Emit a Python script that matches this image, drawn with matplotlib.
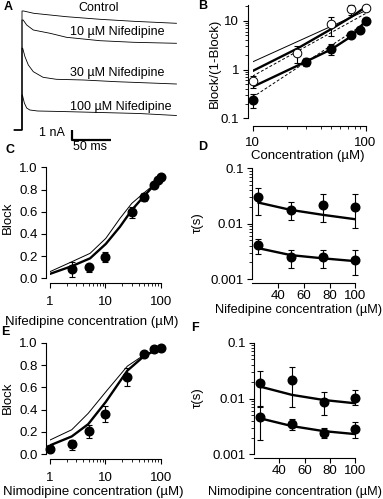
import matplotlib
matplotlib.use("Agg")
import matplotlib.pyplot as plt
import numpy as np
from matplotlib.ticker import FixedLocator, NullFormatter, LogLocator

plt.rcParams['font.family'] = ['Liberation Sans', 'DejaVu Sans']

# ---------------- data ----------------
# Panel A: current traces (time in ms, current in nA)
trace_t = {
    'Control': [-10, 0, 0, 2, 15, 57, 100, 143, 198],
    '10': [-10, 0, 0, 1.5, 6, 14.5, 36, 57, 100, 143, 198],
    '30': [-10, 0, 0, 0.9, 3.8, 8.1, 14.5, 27, 44, 79, 121, 198],
    '100': [-10, 0, 0, 0.5, 3, 6, 10, 20, 50, 100, 150, 198],
}
trace_i = {
    'Control': [0, 0, 11.9, 11.9, 11.67, 11.33, 11.07, 10.87, 10.67],
    '10': [0, 0, 11.0, 11.0, 10.5, 10.0, 9.67, 9.27, 8.93, 8.77, 8.67],
    '30': [0, 0, 8.2, 8.17, 7.33, 6.5, 5.83, 5.27, 5.07, 5.0, 4.83, 4.6],
    '100': [0, 0, 3.5, 3.5, 2.7, 2.2, 2.0, 1.9, 1.85, 1.75, 1.65, 1.45],
}
trace_labels = ['Control', '10 µM Nifedipine', '30 µM Nifedipine', '100 µM Nifedipine']

# Panel B: Block/(1-Block) vs concentration
b_fill_x = [10, 30, 50, 75, 90, 100]
b_fill_y = [0.235, 1.44, 2.6, 5.05, 6.6, 9.8]
b_fill_lo = [0.16, 1.2, 1.96, 4.7, 6.2, 9.3]
b_fill_hi = [0.31, 1.7, 3.4, 5.4, 7.0, 10.3]
b_open_x = [10, 25, 50, 75, 100]
b_open_y = [0.58, 2.2, 8.4, 17.0, 18.6]
b_open_lo = [0.41, 1.33, 4.8, 13.0, 17.0]
b_open_hi = [0.73, 3.1, 12.0, 21.0, 20.0]
b_fit_x = [10, 25, 50, 75, 100]
b_fit_open = [0.93, 2.7, 6.8, 12.0, 19.0]
b_fit_fill = [0.44, 1.2, 2.6, 4.8, 9.8]
b_thin_x = [10, 100]
b_thin_upper = [1.43, 16.0]
b_thin_mid = [0.73, 14.0]
b_thin_low = [0.27, 9.0]

# Panel C: Nifedipine block
c_x = [2.5, 5, 10, 30, 50, 75, 90, 100]
c_y = [0.084, 0.105, 0.19, 0.60, 0.736, 0.84, 0.886, 0.915]
c_lo = [0.015, 0.06, 0.15, 0.54, 0.70, 0.82, 0.87, 0.90]
c_hi = [0.15, 0.13, 0.24, 0.645, 0.77, 0.86, 0.90, 0.93]
c_fit_x = [1, 2.5, 5.3, 10.2, 18.4, 30, 50, 70, 100]
c_fit_thick = [0.04, 0.11, 0.18, 0.31, 0.465, 0.615, 0.74, 0.82, 0.91]
c_fit_thin = [0.06, 0.15, 0.225, 0.36, 0.54, 0.675, 0.77, 0.83, 0.91]

# Panel D: Nifedipine time constants
d_x = [25, 50, 75, 100]
d_up = [0.030, 0.018, 0.0217, 0.0203]
d_up_lo = [0.0144, 0.0116, 0.0109, 0.0082]
d_up_hi = [0.0448, 0.0243, 0.034, 0.034]
d_low = [0.0041, 0.0025, 0.0025, 0.0022]
d_low_lo = [0.0028, 0.0016, 0.0016, 0.0012]
d_low_hi = [0.0053, 0.0034, 0.0033, 0.0033]
d_fit_up = [0.024, 0.0177, 0.0144, 0.012]
d_fit_low = [0.0036, 0.0027, 0.00236, 0.0021]

# Panel E: Nimodipine block
e_x = [1, 2.5, 5, 10, 25, 50, 75, 100]
e_y = [0.048, 0.09, 0.21, 0.358, 0.69, 0.90, 0.943, 0.95]
e_lo = [0.02, 0.04, 0.15, 0.29, 0.61, 0.87, 0.93, 0.94]
e_hi = [0.08, 0.13, 0.26, 0.43, 0.77, 0.92, 0.96, 0.96]
e_fit_x = [1, 2.47, 4.9, 10.2, 25, 50, 100]
e_fit_thick = [0.08, 0.16, 0.27, 0.47, 0.75, 0.88, 0.955]
e_fit_thin = [0.128, 0.22, 0.367, 0.56, 0.79, 0.89, 0.955]

# Panel F: Nimodipine time constants
f_x = [25, 50, 75, 100]
f_up = [0.0192, 0.0214, 0.0088, 0.0103]
f_up_lo = [0.007, 0.0069, 0.005, 0.0075]
f_up_hi = [0.031, 0.036, 0.013, 0.014]
f_low = [0.0046, 0.0035, 0.0024, 0.0028]
f_low_lo = [0.0018, 0.0027, 0.002, 0.002]
f_low_hi = [0.0072, 0.0043, 0.003, 0.0038]
f_fit_up = [0.0163, 0.0116, 0.0094, 0.0082]
f_fit_low = [0.0044, 0.0032, 0.0026, 0.0023]

# ---------------- figure ----------------
W, H = 383, 499
fig = plt.figure(figsize=(W / 100, H / 100), dpi=100)
PX = 0.72  # points per pixel

def add_ax(l, t, r, b):
    return fig.add_axes([l / W, 1 - b / H, (r - l) / W, (b - t) / H])

def ftext(x, y, s, **kw):
    kw.setdefault('ha', 'center')
    kw.setdefault('va', 'center')
    fig.text(x / W, 1 - y / H, s, **kw)

FS = 9.5
MS = 6.2
LW_THICK = 1.7
LW_THIN = 0.7

def style(ax, left_off, bottom_off, xpad=3, ypad=2.5):
    for s in ['top', 'right']:
        ax.spines[s].set_visible(False)
    ax.spines['left'].set_position(('outward', left_off * PX))
    ax.spines['bottom'].set_position(('outward', bottom_off * PX))
    for s in ['left', 'bottom']:
        ax.spines[s].set_linewidth(0.8)
    ax.tick_params(which='major', length=3.5, width=0.8, labelsize=FS, direction='out')
    ax.tick_params(which='minor', length=2, width=0.6, direction='out')
    ax.tick_params(axis='x', pad=xpad)
    ax.tick_params(axis='y', pad=ypad)
    ax.patch.set_alpha(0)

def eb(ax, x, y, lo, hi, filled=True):
    y = np.array(y); lo = np.array(lo); hi = np.array(hi)
    ax.errorbar(x, y, yerr=[y - lo, hi - y], fmt='none', ecolor='black',
                elinewidth=0.8, capsize=2, capthick=0.8, clip_on=False, zorder=3)
    if filled:
        ax.plot(x, y, 'o', color='black', ms=MS, clip_on=False, zorder=4)
    else:
        ax.plot(x, y, 'o', mfc='white', mec='black', mew=0.7, ms=MS, clip_on=False, zorder=4)

# ---- Panel A ----
axA = add_ax(0, 0, 190, 160)
axA.set_xlim(-22 / 0.78, (190 - 22) / 0.78)
axA.set_ylim(-3, 13)
axA.axis('off')
for key in ['Control', '10', '30', '100']:
    axA.plot(trace_t[key], trace_i[key], color='black', lw=0.6)
# scale bar: 50 ms, 1 nA
axA.plot([64, 64, 114], [0, -1, -1], color='black', lw=1.6, solid_capstyle='butt')
ftext(99, 8, trace_labels[0], fontsize=9)
ftext(70, 32, trace_labels[1], fontsize=9, ha='left')
ftext(70, 73, trace_labels[2], fontsize=9, ha='left')
ftext(70, 107, trace_labels[3], fontsize=9, ha='left')
ftext(52, 133, '1 nA', fontsize=9)
ftext(90, 147, '50 ms', fontsize=9)

# ---- Panel B ----
axB = add_ax(252.5, 5, 365.5, 118.3)
axB.set_xscale('log'); axB.set_yscale('log')
axB.set_xlim(10, 100); axB.set_ylim(0.1, 21)
style(axB, 5, 8, xpad=4)
axB.plot(b_thin_x, b_thin_upper, color='black', lw=LW_THIN)
axB.plot(b_thin_x, b_thin_mid, color='black', lw=LW_THIN, ls=(0, (3, 2)))
axB.plot(b_thin_x, b_thin_low, color='black', lw=LW_THIN, ls=(0, (3, 2)))
axB.plot(b_fit_x, b_fit_open, color='black', lw=LW_THICK)
axB.plot(b_fit_x, b_fit_fill, color='black', lw=LW_THICK)
eb(axB, b_fill_x, b_fill_y, b_fill_lo, b_fill_hi, True)
eb(axB, b_open_x, b_open_y, b_open_lo, b_open_hi, False)
axB.xaxis.set_major_locator(FixedLocator([10, 100]))
axB.set_xticklabels(['10', '100'])
axB.xaxis.set_minor_locator(FixedLocator([20, 30, 40, 50, 60, 70, 80, 90]))
axB.xaxis.set_minor_formatter(NullFormatter())
axB.yaxis.set_major_locator(FixedLocator([0.1, 1, 10]))
axB.set_yticklabels(['0.1', '1', '10'])
axB.yaxis.set_minor_locator(LogLocator(base=10, subs=np.arange(2, 10)))
axB.yaxis.set_minor_formatter(NullFormatter())
ftext(215, 63, 'Block/(1-Block)', fontsize=FS, rotation=90)
ftext(308, 156, 'Concentration (µM)', fontsize=FS)

# ---- Panels C & E ----
def block_panel(top, bottom, xs, ys, lo, hi, fx, thick, thin):
    ax = add_ax(50, top, 160.7, bottom)
    ax.set_xscale('log')
    ax.set_xlim(1, 100); ax.set_ylim(0, 1)
    style(ax, 4, 5, xpad=6)
    ax.plot(fx, thin, color='black', lw=LW_THIN)
    ax.plot(fx, thick, color='black', lw=LW_THICK)
    eb(ax, xs, ys, lo, hi, True)
    ax.xaxis.set_major_locator(FixedLocator([1, 10, 100]))
    ax.set_xticklabels(['1', '10', '100'])
    ax.xaxis.set_minor_locator(LogLocator(base=10, subs=np.arange(2, 10)))
    ax.xaxis.set_minor_formatter(NullFormatter())
    ax.set_yticks([0, 0.2, 0.4, 0.6, 0.8, 1.0])
    ax.set_yticklabels(['0.0', '0.2', '0.4', '0.6', '0.8', '1.0'])
    return ax

axC = block_panel(167.3, 278.3, c_x, c_y, c_lo, c_hi, c_fit_x, c_fit_thick, c_fit_thin)
ftext(8, 218, 'Block', fontsize=FS, rotation=90)
ftext(92, 322, 'Nifedipine concentration (µM)', fontsize=FS)
axE = block_panel(342.7, 454.3, e_x, e_y, e_lo, e_hi, e_fit_x, e_fit_thick, e_fit_thin)
ftext(8, 398, 'Block', fontsize=FS, rotation=90)
ftext(93, 492, 'Nimodipine concentration (µM)', fontsize=FS)

# ---- Panels D & F ----
def tau_panel(left, top, bottom, xs, up, up_lo, up_hi, low, low_lo, low_hi, fit_up, fit_low):
    ax = add_ax(left, top, 355.5, bottom)
    ax.set_yscale('log')
    ax.set_xlim(20, 100); ax.set_ylim(0.001, 0.1)
    style(ax, 0, 4, xpad=1.5)
    ax.plot(xs, fit_up, color='black', lw=LW_THICK)
    ax.plot(xs, fit_low, color='black', lw=LW_THICK)
    eb(ax, xs, up, up_lo, up_hi, True)
    eb(ax, xs, low, low_lo, low_hi, True)
    ax.set_xticks([40, 60, 80, 100])
    ax.yaxis.set_major_locator(FixedLocator([0.001, 0.01, 0.1]))
    ax.set_yticklabels(['0.001', '0.01', '0.1'])
    ax.yaxis.set_minor_locator(LogLocator(base=10, subs=np.arange(2, 10)))
    ax.yaxis.set_minor_formatter(NullFormatter())
    return ax

axD = tau_panel(252, 168.3, 279, d_x, d_up, d_up_lo, d_up_hi, d_low, d_low_lo, d_low_hi, d_fit_up, d_fit_low)
ftext(198, 223, 'τ(s)', fontsize=FS, rotation=90)
ftext(382, 310, 'Nifedipine concentration (µM)', fontsize=9.2, ha='right')
axF = tau_panel(254, 342.7, 454.3, f_x, f_up, f_up_lo, f_up_hi, f_low, f_low_lo, f_low_hi, f_fit_up, f_fit_low)
ftext(198, 398, 'τ(s)', fontsize=FS, rotation=90)
ftext(382, 492, 'Nimodipine concentration (µM)', fontsize=9.2, ha='right')

# panel letters
for (x, y, s) in [(8, 7, 'A'), (203, 6, 'B'), (10, 150, 'C'), (203, 147, 'D'), (5, 332, 'E'), (195, 328, 'F')]:
    ftext(x, y, s, fontsize=9, fontweight='bold')

fig.savefig('out.png', dpi=100)
